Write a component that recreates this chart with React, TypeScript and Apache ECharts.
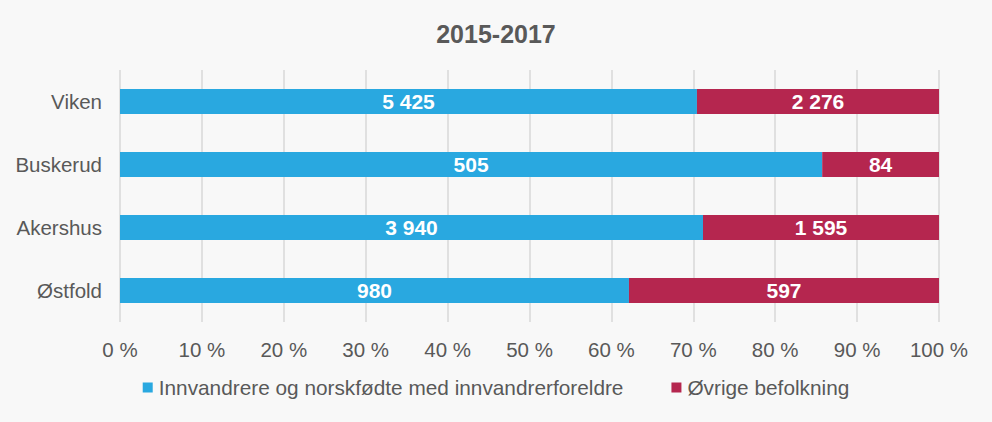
import React, { useEffect, useRef } from "react";
import * as echarts from "echarts";

const categories = ["Viken", "Buskerud", "Akershus", "Østfold"];
const immigrants = [5425, 505, 3940, 980];
const others = [2276, 84, 1595, 597];
const seriesNames = ["Innvandrere og norskfødte med innvandrerforeldre", "Øvrige befolkning"];
const title = "2015-2017";

const fmt = (v: number) => String(v).replace(/\B(?=(\d{3})+(?!\d))/g, " ");
const FONT = "Liberation Sans, Arial, sans-serif";

export default function App() {
  const ref = useRef<HTMLDivElement>(null);
  useEffect(() => {
    if (!ref.current) return;
    const chart = echarts.init(ref.current, null, { renderer: "svg" });
    const totals = immigrants.map((v, i) => v + others[i]);
    const mk = (vals: number[], name: string, color: string) => ({
      name,
      type: "bar",
      stack: "total",
      barWidth: 25,
      itemStyle: { color },
      data: vals.map((v, i) => ({ value: (v / totals[i]) * 100, raw: v })),
      label: {
        show: true,
        position: "inside",
        color: "#ffffff",
        fontWeight: "bold",
        fontSize: 21,
        fontFamily: FONT,
        formatter: (p: any) => fmt(p.data.raw),
      },
    });
    chart.setOption({
      animation: false,
      backgroundColor: "#f8f8f8",
      textStyle: { fontFamily: FONT },
      title: {
        text: title,
        left: "center",
        top: 16,
        textStyle: { fontSize: 25, fontWeight: "bold", color: "#595959", fontFamily: FONT },
      },
      legend: {
        bottom: 19,
        left: "center",
        itemWidth: 10,
        itemHeight: 10,
        itemGap: 48,
        icon: "rect",
        textStyle: { fontSize: 20.8, color: "#595959", padding: [0, 0, 0, 1], fontFamily: FONT },
        data: seriesNames,
      },
      grid: { left: 120, right: 53, top: 70, bottom: 100, containLabel: false },
      xAxis: {
        type: "value",
        min: 0,
        max: 100,
        interval: 10,
        axisLine: { show: false },
        axisTick: { show: false },
        splitLine: { show: true, lineStyle: { color: "#d9d9d9", width: 1.5 } },
        axisLabel: { formatter: "{value} %", fontSize: 20.5, color: "#595959", margin: 17, fontFamily: FONT },
      },
      yAxis: {
        type: "category",
        inverse: true,
        data: categories,
        axisLine: { show: false },
        axisTick: { show: false },
        axisLabel: { fontSize: 20.5, color: "#595959", margin: 18, fontFamily: FONT },
      },
      series: [mk(immigrants, seriesNames[0], "#29a8e0"), mk(others, seriesNames[1], "#b5264f")],
    });
    return () => chart.dispose();
  }, []);
  return (
    <div
      style={{
        position: "fixed",
        left: 0,
        top: 0,
        width: 992,
        height: 422,
        boxSizing: "border-box",
        border: "2px solid #d9d9d9",
        background: "#f8f8f8",
      }}
    >
      <div ref={ref} style={{ position: "absolute", left: -2, top: -2, width: 992, height: 422 }} />
    </div>
  );
}
